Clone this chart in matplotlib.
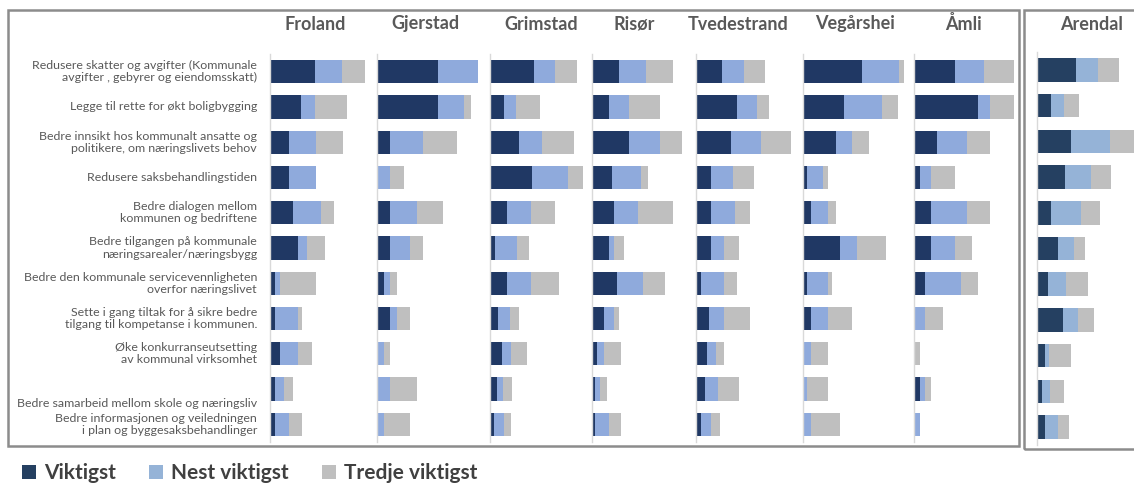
import matplotlib
matplotlib.use("Agg")
import matplotlib.pyplot as plt
from matplotlib.patches import Patch, Rectangle
from matplotlib.transforms import offset_copy

plt.rcParams['font.family'] = ['Lato', 'DejaVu Sans']

tiltak = [
    "Redusere skatter og avgifter (Kommunale\navgifter , gebyrer og eiendomsskatt)",
    "Legge til rette for økt boligbygging",
    "Bedre innsikt hos kommunalt ansatte og\npolitikere, om næringslivets behov",
    "Redusere saksbehandlingstiden",
    "Bedre dialogen mellom\nkommunen og bedriftene",
    "Bedre tilgangen på kommunale\nnæringsarealer/næringsbygg",
    "Bedre den kommunale servicevennligheten\noverfor næringslivet",
    "Sette i gang tiltak for å sikre bedre\ntilgang til kompetanse i kommunen.",
    "Øke konkurranseutsetting\nav kommunal virksomhet",
    "Bedre samarbeid mellom skole og næringsliv",
    "Bedre informasjonen og veiledningen\ni plan og byggesaksbehandlinger",
]

kommuner = ["Froland", "Gjerstad", "Grimstad", "Risør", "Tvedestrand",
            "Vegårshei", "Åmli", "Arendal"]

# andel svar (lest av bildet), en liste per kommune
viktigst = [
    [45, 31, 19, 19, 23, 28, 5, 5, 10, 5, 5],
    [61, 61, 13, 0, 13, 13, 7, 13, 0, 0, 0],
    [44, 14, 29, 42, 17, 5, 17, 8, 12, 7, 4],
    [27, 17, 37, 20, 22, 17, 25, 12, 5, 3, 3],
    [26, 41, 35, 15, 15, 15, 5, 13, 11, 9, 5],
    [59, 41, 33, 4, 8, 37, 4, 8, 0, 0, 0],
    [41, 64, 23, 6, 17, 17, 11, 0, 0, 6, 0],
    [39, 14, 34, 28, 14, 21, 11, 26, 8, 5, 8],
]
nest_viktigst = [
    [27, 14, 27, 27, 28, 9, 5, 23, 18, 9, 14],
    [40, 26, 33, 13, 27, 20, 6, 7, 7, 13, 7],
    [21, 12, 23, 36, 24, 22, 24, 12, 9, 6, 10],
    [27, 20, 31, 29, 24, 5, 26, 10, 7, 5, 14],
    [22, 20, 30, 22, 24, 13, 23, 15, 9, 13, 10],
    [37, 38, 16, 16, 17, 17, 21, 17, 8, 4, 8],
    [29, 12, 30, 11, 36, 24, 36, 11, 0, 5, 6],
    [22, 13, 39, 26, 30, 16, 18, 15, 4, 8, 13],
]
tredje_viktigst = [
    [23, 32, 27, 0, 13, 18, 36, 4, 14, 9, 13],
    [0, 7, 34, 14, 26, 13, 7, 13, 6, 27, 26],
    [22, 24, 32, 15, 24, 12, 28, 9, 16, 9, 7],
    [27, 31, 22, 7, 35, 10, 22, 5, 17, 7, 12],
    [21, 12, 30, 21, 15, 15, 13, 26, 8, 21, 9],
    [5, 16, 17, 5, 8, 29, 4, 24, 17, 21, 29],
    [30, 24, 23, 24, 23, 17, 17, 18, 6, 6, 0],
    [21, 15, 30, 20, 19, 11, 22, 16, 22, 14, 11],
]

W, H = 1134, 486
fig = plt.figure(figsize=(W / 100, H / 100), dpi=100)

def fx(x):
    return x / W

def fy(y):
    return 1 - y / H

# rammer
fig.patches.append(Rectangle((fx(8), fy(446)), fx(1019 - 8), (446 - 10) / H,
                             transform=fig.transFigure, fill=False,
                             edgecolor='#8c8c8c', lw=1.8))
fig.patches.append(Rectangle((fx(1024), fy(449)), fx(130), (449 - 10) / H,
                             transform=fig.transFigure, fill=False,
                             edgecolor='#8c8c8c', lw=1.8))

# paneler: venstre kant, bredde (px)
panel_x = [270, 377, 490, 592, 696, 803, 914, 1037]
panel_w = [105, 110, 100, 102, 105, 108, 102, 98]
tittel_x = [315, 425, 541, 634, 738, 855, 963, 1092]

farger = ['#203864', '#8FAADC', '#BFBFBF']
farger_arendal = ['#254061', '#95B3D7', '#BFBFBF']

n = len(tiltak)
axes = []
for k, navn in enumerate(kommuner):
    top, bot = (54, 442) if k < 7 else (52, 445)
    ax = fig.add_axes([fx(panel_x[k]), fy(bot), fx(panel_w[k]), (bot - top) / H])
    f = farger if k < 7 else farger_arendal
    y = list(range(n))
    left = [0] * n
    for serie, c in zip([viktigst[k], nest_viktigst[k], tredje_viktigst[k]], f):
        ax.barh(y, serie, left=left, height=0.66, color=c, edgecolor='none')
        left = [a + b for a, b in zip(left, serie)]
    ax.set_xlim(0, panel_w[k])
    ax.set_ylim(n - 0.5, -0.5)
    for s in ['top', 'right', 'bottom']:
        ax.spines[s].set_visible(False)
    ax.spines['left'].set_color('#d9d9d9')
    ax.spines['left'].set_linewidth(1)
    ax.set_xticks([])
    ax.set_yticks([])
    fig.text(fx(tittel_x[k]), fy(24), navn, ha='center', va='center',
             fontsize=13, fontweight='bold', color='#595959')
    axes.append(ax)

# kategorietiketter
ax0 = axes[0]
for i, lab in enumerate(tiltak):
    dy = -14 if i == 9 else 0
    tr = offset_copy(ax0.get_yaxis_transform(), fig=fig, x=-13, y=dy, units='dots')
    ax0.text(0, i, lab, transform=tr, ha='right', va='center', fontsize=8.9,
             color='#595959', linespacing=1.15, multialignment='right')

handles = [Patch(facecolor=c, edgecolor='none') for c in farger_arendal]
fig.legend(handles, ["Viktigst", "Nest viktigst", "Tredje viktigst"],
           loc='lower left', bbox_to_anchor=(fx(20), 0.002), ncol=3,
           frameon=False, prop={'size': 15, 'weight': 'bold'},
           labelcolor='#404040', handlelength=0.65, handleheight=0.65,
           handletextpad=0.4, columnspacing=1.6, borderaxespad=0,
           borderpad=0.1)

fig.savefig("out.png", dpi=100)
